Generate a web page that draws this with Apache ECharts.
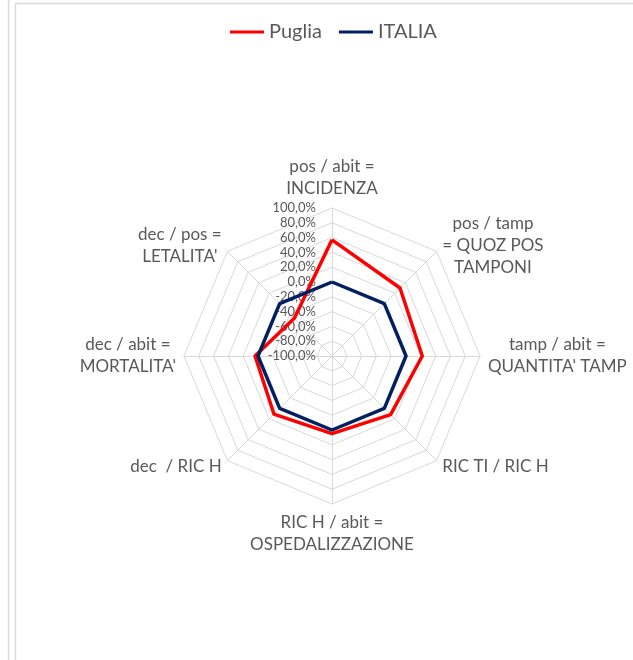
<!DOCTYPE html>
<html>
<head>
<meta charset="utf-8">
<style>
  html, body { margin: 0; padding: 0; background: #ffffff; }
  #chart { width: 633px; height: 660px; }
</style>
<script src="https://cdn.jsdelivr.net/npm/echarts@6/dist/echarts.min.js"></script>
</head>
<body>
<div id="chart"></div>
<script>
// Indicators, listed clockwise starting from the top
const categories = [
  'pos / abit =\nINCIDENZA',
  'pos / tamp\n= QUOZ POS\nTAMPONI',
  "tamp / abit =\nQUANTITA' TAMP",
  'RIC TI / RIC H',
  'RIC H / abit =\nOSPEDALIZZAZIONE',
  'dec  / RIC H',
  "dec / abit =\nMORTALITA'",
  "dec / pos =\nLETALITA'"
];

// Percent deviation of each ratio (same clockwise order)
const puglia = [57, 30, 22, 12, 5, 11, 4, -28];
const italia = [0, 0, 0, 0, 0, 0, 0, 0];

const seriesNames = ['Puglia', 'ITALIA'];
const axisMin = -100;
const axisMax = 100;
const axisSplits = 10;

const textColor = '#595959';
const gridColor = '#d9d9d9';
const fontFamily = 'Lato, "Liberation Sans", sans-serif';

// ECharts lays radar indicators out counter-clockwise, so walk the
// clockwise lists backwards after the first entry.
const order = [0].concat(categories.map((_, i) => i).slice(1).reverse());
const pick = arr => order.map(i => arr[i]);

const fmtPct = v => v.toFixed(1).replace('.', ',') + '%';

// Each line of an indicator name is centred inside its own text block
const centerLines = name => name.split('\n').map(s => '{c|' + s + '}').join('\n');

const indicator = pick(categories).map((name, k) => {
  const ind = { name: name, min: axisMin, max: axisMax };
  if (k === 0) {
    ind.axisLabel = {
      show: true,
      margin: 16,
      color: textColor,
      fontSize: 13,
      fontFamily: fontFamily,
      formatter: fmtPct
    };
  }
  return ind;
});

const chart = echarts.init(document.getElementById('chart'), null, { renderer: 'canvas' });

chart.setOption({
  backgroundColor: '#ffffff',
  animation: false,
  graphic: [
    { type: 'line', shape: { x1: 8.5, y1: 0, x2: 8.5, y2: 660 }, style: { stroke: gridColor, lineWidth: 1.5 } },
    { type: 'line', shape: { x1: 15.5, y1: 3.5, x2: 15.5, y2: 660 }, style: { stroke: gridColor, lineWidth: 1.5 } },
    { type: 'line', shape: { x1: 15.5, y1: 3.5, x2: 633, y2: 3.5 }, style: { stroke: gridColor, lineWidth: 1.5 } }
  ],
  legend: {
    top: 22,
    left: 230,
    padding: 0,
    itemWidth: 34,
    itemHeight: 3,
    itemGap: 17,
    icon: 'rect',
    textStyle: { color: textColor, fontSize: 20, fontFamily: fontFamily },
    data: seriesNames
  },
  radar: {
    center: [332, 356],
    radius: 148,
    startAngle: 90,
    splitNumber: axisSplits,
    shape: 'polygon',
    nameGap: 8,
    axisName: {
      color: textColor,
      fontSize: 17,
      fontFamily: fontFamily,
      lineHeight: 22,
      formatter: centerLines,
      rich: {
        c: {
          align: 'center',
          color: textColor,
          fontSize: 17,
          fontFamily: fontFamily,
          lineHeight: 22
        }
      }
    },
    axisLabel: { show: false },
    axisLine: { lineStyle: { color: gridColor, width: 1 } },
    splitLine: { lineStyle: { color: gridColor, width: 1 } },
    splitArea: { show: false },
    axisTick: { show: false },
    indicator: indicator
  },
  series: [{
    type: 'radar',
    symbol: 'none',
    data: [
      {
        name: seriesNames[0],
        value: pick(puglia),
        lineStyle: { color: '#ff0000', width: 3.5 },
        itemStyle: { color: '#ff0000' }
      },
      {
        name: seriesNames[1],
        value: pick(italia),
        lineStyle: { color: '#002060', width: 3.5 },
        itemStyle: { color: '#002060' }
      }
    ]
  }]
});
</script>
</body>
</html>
